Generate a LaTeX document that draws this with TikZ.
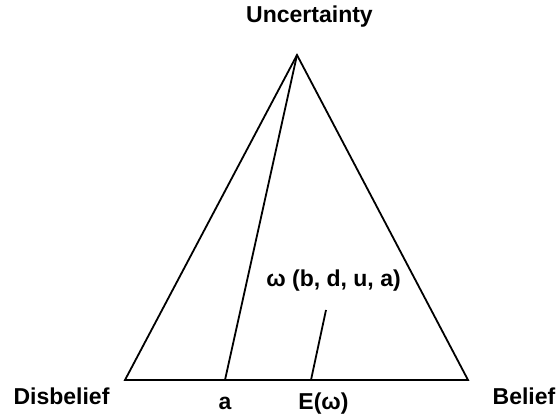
\documentclass[tikz,border=0pt]{standalone}
\usepackage{fontspec}
\setmainfont{Liberation Sans}
\usetikzlibrary{positioning, calc}

\begin{document}
\begin{tikzpicture}[
        x=1pt, y=-1pt,
        edge/.style={line width=1.8pt, black},
        lbl/.style={font=\bfseries\fontsize{23}{28}\selectfont, inner sep=0pt, anchor=base}
    ]
        \useasboundingbox (0,0) rectangle (556,419);

        % Triangle corners
        \coordinate (apex) at (297,55);
        \coordinate (dis) at (125,380);
        \coordinate (bel) at (468,380);
        \coordinate (abase) at (225,380);
        \coordinate (omega) at (326,310);
        \coordinate (ebase) at (311,380);

        % Triangle
        \draw[edge, line join=miter] (apex) -- (dis) -- (bel) -- cycle;
        \draw[edge] (apex) -- (abase);
        \draw[edge] (omega) -- (ebase);

        % Labels
        \node[lbl] (unc) at (309.5,23) {Uncertainty};
        \node[lbl] (disl) at (61.5,404) {Disbelief};
        \node[lbl] (bell) at (524,404) {Belief};
        \node[lbl] (al) at (225,409) {a};
        \node[lbl] (el) at (323.5,409) {E(ω)};
        \node[lbl] (wl) at (333.5,287) {ω (b, d, u, a)};
    \end{tikzpicture}
\end{document}
